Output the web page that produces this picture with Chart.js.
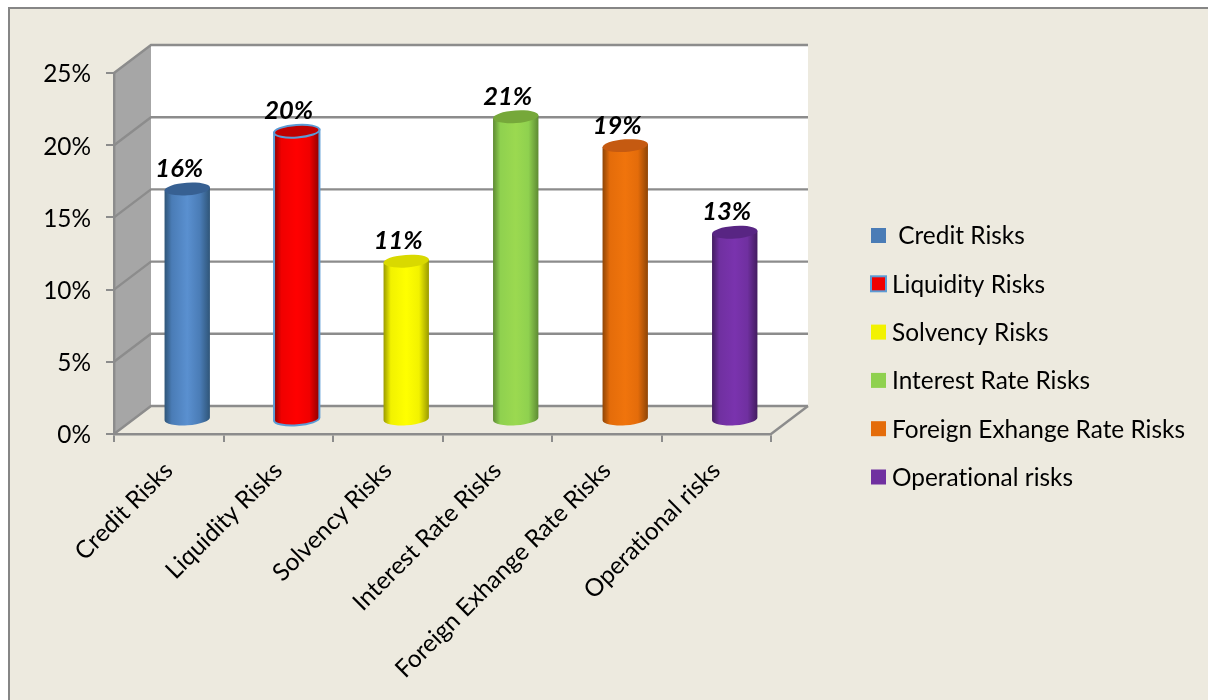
<!DOCTYPE html>
<html>
<head>
<meta charset="utf-8">
<title>Risk shares</title>
<style>
  html, body { margin: 0; padding: 0; background: #ffffff; }
  #wrap { position: relative; width: 1208px; height: 700px; }
</style>
<script src="https://cdn.jsdelivr.net/npm/chart.js@4/dist/chart.umd.min.js"></script>
</head>
<body>
<div id="wrap"><canvas id="chart" width="1208" height="700"></canvas></div>
<script>
// Chart data
const categories = ["Credit Risks", "Liquidity Risks", "Solvency Risks", "Interest Rate Risks", "Foreign Exhange Rate Risks", "Operational risks"];
const riskShares = [16, 20, 11, 21, 19, 13];
const legendLabels = [" Credit Risks", "Liquidity Risks", "Solvency Risks", "Interest Rate Risks", "Foreign Exhange Rate Risks", "Operational risks"];
const yTicks = [0, 5, 10, 15, 20, 25];

// Cylinder colours: body, lit centre, shaded edge, top cap
const barColors = ["#4A7CB6", "#F00000", "#F2F200", "#8FD14F", "#E46C0A", "#7030A0"];
const barLights = ["#5A90D0", "#FF0000", "#FFFF00", "#9BD950", "#F0740C", "#7A33AE"];
const barShades = ["#2F5578", "#8C0000", "#9A9A00", "#5E8A33", "#8E4506", "#431C60"];
const barCaps = ["#376092", "#C00000", "#D9D900", "#76A83A", "#C55A11", "#582583"];
const barOutlines = [null, "#5B9BD5", null, null, null, null];

const FONT = "Lato, Carlito, sans-serif";
const GRID = "#8C8C8C";
const PANEL = "#EDEADF";
// Offset from the front of the 3D box to its back wall
const DEPTH_X = 37, DEPTH_Y = -28;

const boxPlugin = {
  id: "box3d",
  beforeDraw(chart) {
    const { ctx, chartArea: a, scales } = chart;
    const y = scales.y;
    // a tiny spacing keeps "ti" and similar pairs as separate glyphs
    ctx.letterSpacing = "0.01px";
    ctx.save();
    // outer panel with its top and left rule
    ctx.fillStyle = PANEL;
    ctx.fillRect(9, 8, chart.width - 9, chart.height - 8);
    ctx.fillStyle = "#868686";
    ctx.fillRect(8, 7, chart.width - 8, 2);
    ctx.fillRect(8, 7, 2, chart.height - 7);

    const top = y.getPixelForValue(25), bot = y.getPixelForValue(0);
    // back wall
    ctx.fillStyle = "#FFFFFF";
    ctx.fillRect(a.left + DEPTH_X, top + DEPTH_Y, a.right - a.left, bot - top);
    // side wall
    ctx.fillStyle = "#A6A6A6";
    ctx.beginPath();
    ctx.moveTo(a.left, top);
    ctx.lineTo(a.left + DEPTH_X, top + DEPTH_Y);
    ctx.lineTo(a.left + DEPTH_X, bot + DEPTH_Y);
    ctx.lineTo(a.left, bot);
    ctx.closePath();
    ctx.fill();

    // gridlines run along the side wall and across the back wall
    ctx.strokeStyle = GRID;
    ctx.lineWidth = 2.4;
    ctx.lineJoin = "miter";
    yTicks.forEach(v => {
      const p = y.getPixelForValue(v);
      ctx.beginPath();
      ctx.moveTo(a.left, p);
      ctx.lineTo(a.left + DEPTH_X, p + DEPTH_Y);
      ctx.lineTo(a.right + DEPTH_X, p + DEPTH_Y);
      ctx.stroke();
    });
    // floor edge on the right
    ctx.beginPath();
    ctx.moveTo(a.right, bot);
    ctx.lineTo(a.right + DEPTH_X, bot + DEPTH_Y);
    ctx.stroke();
    ctx.restore();
  },
  beforeDatasetDraw(chart, args) {
    const { ctx } = chart;
    const rx = 22.7, ry = 6.3, tilt = -0.07;
    const lift = Math.sin(tilt) * rx;
    args.meta.data.forEach((bar, i) => {
      const cx = bar.x + DEPTH_X / 2;
      const topY = bar.y + DEPTH_Y / 2;
      const baseY = bar.base + DEPTH_Y / 2;
      const grad = ctx.createLinearGradient(cx - rx, 0, cx + rx, 0);
      grad.addColorStop(0, barShades[i]);
      grad.addColorStop(0.16, barColors[i]);
      grad.addColorStop(0.5, barLights[i]);
      grad.addColorStop(0.78, barColors[i]);
      grad.addColorStop(1, barShades[i]);

      ctx.save();
      const body = new Path2D();
      body.moveTo(cx + rx, topY + lift);
      body.lineTo(cx - rx, topY - lift);
      body.lineTo(cx - rx, baseY - lift);
      body.ellipse(cx, baseY, rx, ry, tilt, Math.PI, 0, true);
      body.closePath();
      ctx.fillStyle = grad;
      ctx.fill(body);

      // the outline goes on before the cap, which then hides its top edge
      if (barOutlines[i]) {
        ctx.strokeStyle = barOutlines[i];
        ctx.lineWidth = 2;
        ctx.stroke(body);
      }
      const cap = new Path2D();
      cap.ellipse(cx, topY, rx, ry, tilt, 0, Math.PI * 2);
      ctx.fillStyle = barCaps[i];
      ctx.fill(cap);
      if (barOutlines[i]) {
        ctx.stroke(cap);
      }
      ctx.restore();
    });
    return false;
  },
  afterDatasetsDraw(chart) {
    const { ctx } = chart;
    const meta = chart.getDatasetMeta(0);
    ctx.save();
    // value labels above each cylinder
    ctx.fillStyle = "#000000";
    ctx.font = "italic bold 25.5px " + FONT;
    ctx.textAlign = "center";
    ctx.textBaseline = "middle";
    meta.data.forEach((bar, i) => {
      ctx.fillText(riskShares[i] + "%", bar.x + DEPTH_X / 2 - 8, bar.y + DEPTH_Y / 2 - 20);
    });

    // key at the right of the plot
    const keyX = 871, keyTop = 235.5, keyStep = 48.3, size = 15;
    ctx.font = "24.4px " + FONT;
    ctx.textAlign = "left";
    legendLabels.forEach((label, i) => {
      const cy = keyTop + i * keyStep;
      ctx.fillStyle = barColors[i];
      ctx.fillRect(keyX, cy - size / 2, size, size);
      if (barOutlines[i]) {
        ctx.strokeStyle = barOutlines[i];
        ctx.lineWidth = 2;
        ctx.strokeRect(keyX, cy - size / 2, size, size);
      }
      ctx.fillStyle = "#000000";
      ctx.fillText(label, 892, cy + 1);
    });
    ctx.restore();
  }
};

new Chart(document.getElementById("chart"), {
  type: "bar",
  data: {
    labels: categories,
    datasets: [{
      data: riskShares,
      backgroundColor: barColors,
      barThickness: 46
    }]
  },
  plugins: [boxPlugin],
  options: {
    responsive: false,
    animation: false,
    layout: { padding: { left: 0, top: 73, right: 437, bottom: 0 } },
    plugins: { legend: { display: false }, tooltip: { enabled: false }, title: { display: false } },
    scales: {
      x: {
        afterFit(scale) { scale.height = 266; },
        grid: { drawOnChartArea: false, drawTicks: true, tickLength: 8, color: GRID, lineWidth: 2 },
        border: { display: true, color: GRID, width: 2.4 },
        ticks: {
          autoSkip: false, minRotation: 45, maxRotation: 45, padding: 14,
          color: "#000000", font: { family: FONT, size: 24.4 }
        }
      },
      y: {
        min: 0, max: 25,
        afterFit(scale) { scale.width = 114; },
        afterBuildTicks(scale) { scale.ticks = yTicks.map(value => ({ value })); },
        grid: { drawOnChartArea: false, drawTicks: true, tickLength: 8, color: GRID, lineWidth: 2 },
        border: { display: true, color: GRID, width: 2.4 },
        ticks: {
          padding: 15, labelOffset: 1.5, color: "#000000", font: { family: FONT, size: 24.4 },
          callback: v => v + "%"
        }
      }
    }
  }
});
</script>
</body>
</html>
